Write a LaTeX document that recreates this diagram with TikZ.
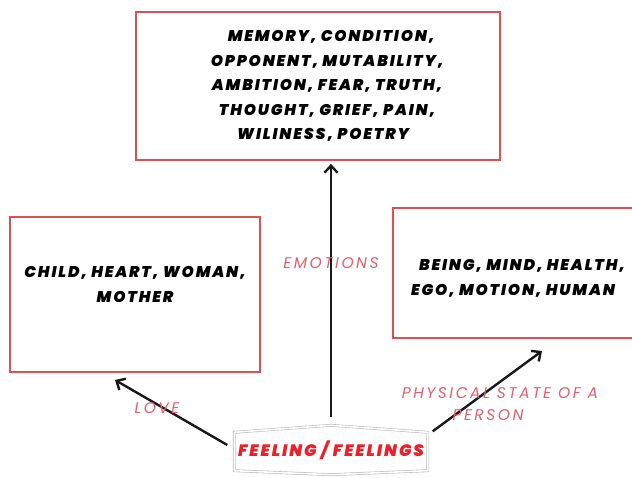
\documentclass[tikz,border=0pt]{standalone}
\usepackage{fontspec}
\usepackage{xcolor}
\usetikzlibrary{arrows.meta, positioning, calc}
\setmainfont{Poppins}
\newfontfamily\boxfont[LetterSpace=12, BoldItalicFont={Poppins Black Italic}]{Poppins}
\newfontfamily\labfont[LetterSpace=16]{Poppins}
\definecolor{boxred}{RGB}{224,78,86}
\definecolor{labred}{RGB}{226,96,106}
\definecolor{feelred}{RGB}{236,32,42}

\tikzset{
  wordbox/.style={draw=boxred, line width=1.8pt, align=center, inner sep=0pt,
    font=\boxfont\bfseries\itshape\fontsize{15.5}{24.5}\selectfont},
  lab/.style={text=labred, align=center, inner sep=0pt,
    font=\labfont\itshape\fontsize{15.5}{22}\selectfont},
  arr/.style={-{Straight Barb[length=7pt,width=13pt,line width=2.4pt]}, line width=2.4pt, black!90}
}

\begin{document}
\begin{tikzpicture}[x=1pt,y=1pt]
    \useasboundingbox (0,0) rectangle (632,477);

    % the three boxes
    \node[wordbox, minimum width=364pt, minimum height=148pt] (emo) at (318,391)
        {\hspace*{26pt}MEMORY, CONDITION,\\
         \hspace*{18pt}OPPONENT, MUTABILITY,\\
         \hspace*{18pt}AMBITION, FEAR, TRUTH,\\
         \hspace*{18pt}THOUGHT, GRIEF, PAIN,\\
         \hspace*{10pt}WILINESS, POETRY};
    \node[wordbox, minimum width=250pt, minimum height=155pt] (love) at (135,182.5)
        {CHILD, HEART, WOMAN,\\ MOTHER\\[-4.5pt]};
    \node[wordbox, minimum width=250pt, minimum height=130pt] (phys) at (518,204)
        {\hspace*{8pt}BEING, MIND, HEALTH,\\ EGO, MOTION, HUMAN\hspace*{10pt}\mbox{}\\[-33.5pt]};

    % root word
    \node[minimum width=193pt, minimum height=49pt, inner sep=0pt, text=feelred,
          font=\boxfont\bfseries\itshape\fontsize{16.5}{18}\selectfont] (feel) at (331,27)
        {FEELING / FEELINGS};
    \draw[gray!55, line width=0.6pt, double=white, double distance=1.6pt]
        ($(feel.north west)+(0,-7pt)$) -- (feel.north) -- ($(feel.north east)+(0,-7pt)$)
        -- ($(feel.south east)+(0,4pt)$) -- (feel.south) -- ($(feel.south west)+(0,4pt)$)
        -- cycle;

    % arrows
    \coordinate (lovetip) at (115,97);
    \coordinate (phystip) at (542,126);
    \draw[arr] ([yshift=8pt]feel.north) -- ([yshift=-3pt]feel.north |- emo.south);
    \draw[arr] ([shift={(-7pt,5pt)}]feel.west) -- (lovetip);
    \draw[arr] ([shift={(5pt,-6pt)}]feel.north east) -- (phystip);

    % arrow labels
    \node[lab] (lbemo) at (331,214) {EMOTIONS};
    \node[lab] (lblove) at (157,69) {LOVE};
    \node[lab] (lbphys) at (500,73) {PHYSICAL STATE OF A\\ PERSON\hspace*{24pt}};
\end{tikzpicture}
\end{document}
